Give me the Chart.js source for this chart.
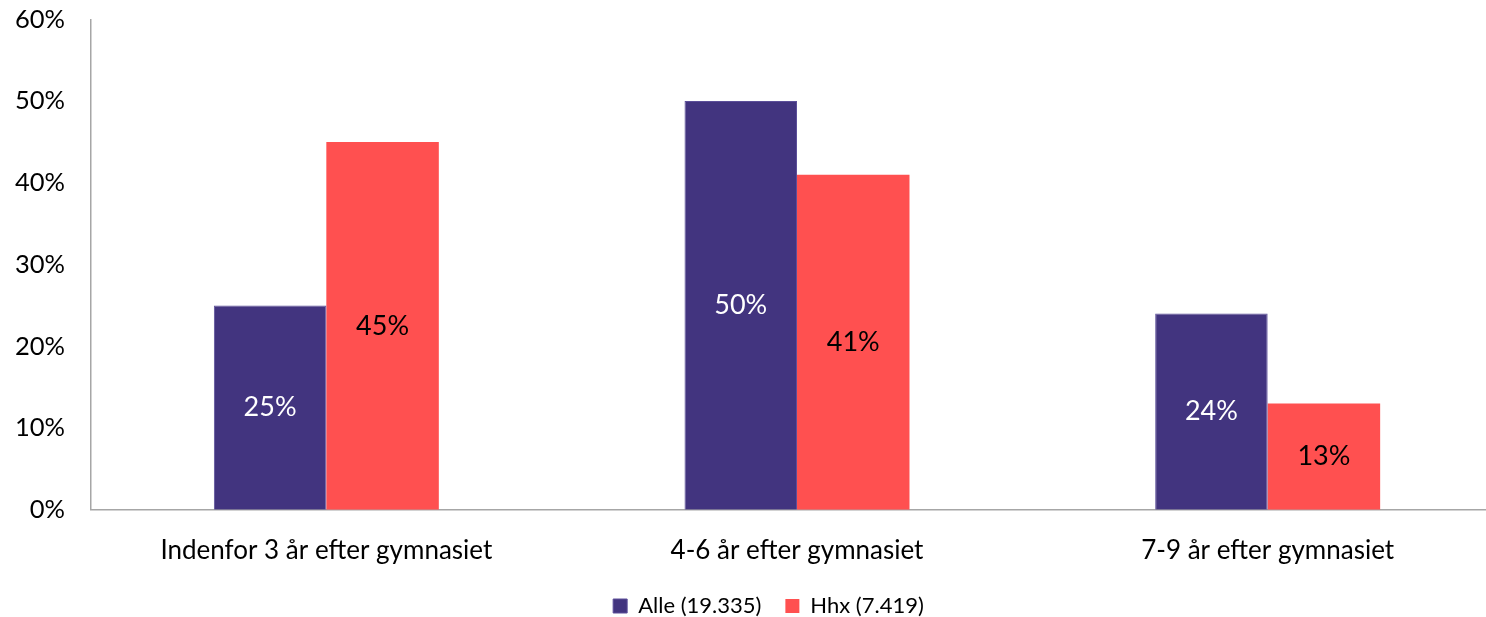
<!DOCTYPE html>
<html>
<head>
<meta charset="utf-8">
<script src="https://cdn.jsdelivr.net/npm/chart.js@4/dist/chart.umd.min.js"></script>
<style>
  html, body { margin: 0; padding: 0; background: #fff; overflow: hidden; }
  body { width: 1486px; height: 617px; position: relative; }
  #wrap { position: absolute; left: 0; top: -22px; width: 1505px; height: 649px; }
</style>
</head>
<body>
<div id="wrap"><canvas id="canvas"></canvas></div>
<script>
const categories = ["Indenfor 3 år efter gymnasiet", "4-6 år efter gymnasiet", "7-9 år efter gymnasiet"];
const alleValues = [25, 50, 24];
const hhxValues = [45, 41, 13];
const seriesNames = ["Alle (19.335)", "Hhx (7.419)"];

const FONT = "Lato, 'Open Sans', sans-serif";

// draws the value in the middle of each bar
const barLabels = {
    id: "barLabels",
    afterDatasetsDraw(chart) {
        const ctx = chart.ctx;
        ctx.save();
        ctx.font = "27px " + FONT;
        ctx.textAlign = "center";
        ctx.textBaseline = "middle";
        chart.data.datasets.forEach((ds, i) => {
            const meta = chart.getDatasetMeta(i);
            meta.data.forEach((bar, j) => {
                const y = (bar.y + bar.base) / 2;
                ctx.fillStyle = ds.labelColor;
                ctx.fillText(ds.data[j] + "%", bar.x, y);
            });
        });
        ctx.restore();
    }
};

// legend sits a bit right of the canvas centre in the original
const legendShift = {
    id: "legendShift",
    afterLayout(chart) {
        chart.legend.left += 17;
        chart.legend.right += 17;
    }
};

new Chart(document.getElementById("canvas"), {
    type: "bar",
    data: {
        labels: categories,
        datasets: [
            {
                label: seriesNames[0],
                data: alleValues,
                backgroundColor: "#42347F",
                borderColor: "#5C4F9A",
                borderWidth: 1,
                labelColor: "#ffffff",
            },
            {
                label: seriesNames[1],
                data: hhxValues,
                backgroundColor: "#FF5050",
                borderColor: "#FF5050",
                borderWidth: 0,
                labelColor: "#000000",
            },
        ],
    },
    options: {
        responsive: true,
        maintainAspectRatio: false,
        animation: false,
        layout: { padding: { top: 0, right: 2, left: 0, bottom: 0 } },
        datasets: {
            bar: { categoryPercentage: 0.478, barPercentage: 1.0 },
        },
        scales: {
            x: {
                grid: { display: false, drawTicks: false },
                border: { color: "#A6A6A6", width: 1.5 },
                afterFit(scale) { scale.height -= 20; },
                ticks: { color: "#000", font: { family: FONT, size: 26 }, padding: 25 },
            },
            y: {
                min: 0,
                max: 60,
                grid: { display: false, drawTicks: false },
                border: { color: "#A6A6A6", width: 1.5 },
                afterFit(scale) { scale.width = 91; },
                ticks: {
                    stepSize: 10,
                    color: "#000",
                    font: { family: FONT, size: 25.5 },
                    padding: 26,
                    callback: (v) => v + "%",
                },
            },
        },
        plugins: {
            legend: {
                position: "bottom",
                labels: {
                    color: "#000",
                    font: { family: FONT, size: 22 },
                    boxWidth: 14,
                    boxHeight: 14,
                    padding: 24,
                },
            },
            tooltip: { enabled: false },
        },
    },
    plugins: [barLabels, legendShift],
});
</script>
</body>
</html>
